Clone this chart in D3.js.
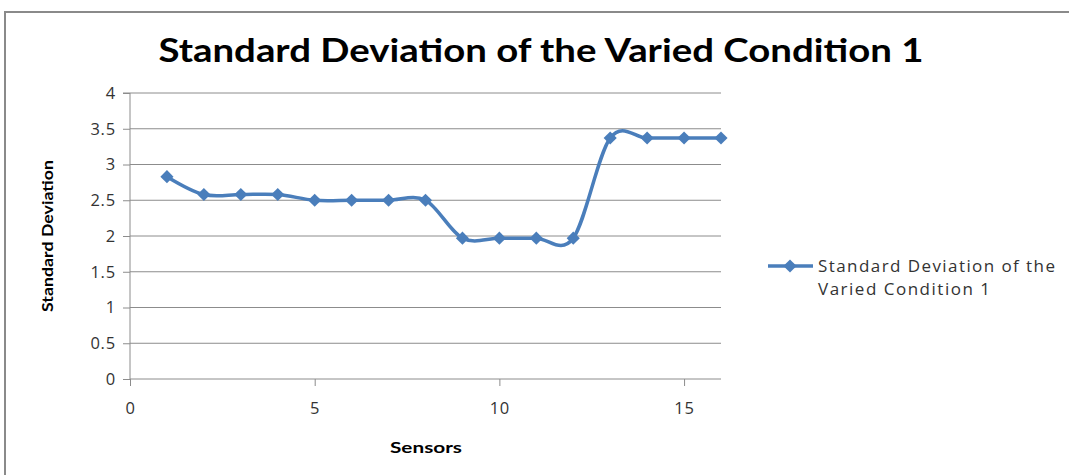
<!DOCTYPE html>
<html>
<head>
<meta charset="utf-8">
<script src="https://cdn.jsdelivr.net/npm/d3@7/dist/d3.min.js"></script>
<style>
  html, body { margin: 0; padding: 0; background: #fff; }
  svg { display: block; }
</style>
</head>
<body>
<svg id="chart" width="1069" height="475"></svg>
<script>
const sensors = [1, 2, 3, 4, 5, 6, 7, 8, 9, 10, 11, 12, 13, 14, 15, 16];
const stdValues = [2.83, 2.58, 2.58, 2.58, 2.5, 2.5, 2.5, 2.5, 1.97, 1.97, 1.97, 1.97, 3.37, 3.37, 3.37, 3.37];
const xTicks = [0, 5, 10, 15];
const yTicks = [0, 0.5, 1, 1.5, 2, 2.5, 3, 3.5, 4];
const chartTitle = "Standard Deviation of the Varied Condition 1";
const seriesName = ["Standard Deviation of the", "Varied Condition 1"];
const xTitle = "Sensors";
const yTitle = "Standard Deviation";

const svg = d3.select("#chart");
const color = "#4a7ebb";

// outer frame
svg.append("path")
  .attr("d", "M5,475 V12 H1069")
  .attr("fill", "none").attr("stroke", "#8a8a8a").attr("stroke-width", 2);

const x = d3.scaleLinear().domain([0, 16]).range([130, 721]);
const y = d3.scaleLinear().domain([0, 4]).range([379, 93]);

// gridlines
svg.append("g").selectAll("line").data(yTicks.filter(d => d > 0)).join("line")
  .attr("x1", x(0)).attr("x2", x(16))
  .attr("y1", d => y(d)).attr("y2", d => y(d))
  .attr("stroke", "#8c8c8c").attr("stroke-width", 1);

// y axis
const yAxis = d3.axisLeft(y).tickValues(yTicks).tickSize(7).tickPadding(10)
  .tickFormat(d => String(d));
const gy = svg.append("g").attr("transform", `translate(${x(0)},0)`).call(yAxis);
gy.select(".domain").attr("stroke", "#8c8c8c").attr("d", `M-7,${y(4)}H0V${y(0)}`);
gy.selectAll(".tick line").attr("stroke", "#8c8c8c");
gy.selectAll(".tick text").attr("font-family", "Open Sans").attr("font-size", 16.5)
  .attr("letter-spacing", 0.8)
  .attr("fill", "#333").attr("x", -14);

// x axis
const xAxis = d3.axisBottom(x).tickValues(xTicks).tickSize(7).tickPadding(16)
  .tickFormat(d => String(d));
const gx = svg.append("g").attr("transform", `translate(0,${y(0)})`).call(xAxis);
gx.select(".domain").attr("stroke", "#8c8c8c").attr("d", `M${x(0)},0H${x(16)}`);
gx.selectAll(".tick line").attr("stroke", "#8c8c8c");
gx.selectAll(".tick text").attr("font-family", "Open Sans").attr("font-size", 16.5)
  .attr("letter-spacing", 0.8)
  .attr("fill", "#333");

// line
const line = d3.line()
  .x((d, i) => x(sensors[i]))
  .y(d => y(d))
  .curve(d3.curveCatmullRom.alpha(0));
svg.append("path").datum(stdValues)
  .attr("d", line)
  .attr("fill", "none").attr("stroke", color).attr("stroke-width", 3.5)
  .attr("stroke-linejoin", "round");

const diamond = d3.symbol().type(d3.symbolDiamond2).size(110);
svg.append("g").selectAll("path").data(stdValues).join("path")
  .attr("transform", (d, i) => `translate(${x(sensors[i])},${y(d)})`)
  .attr("d", diamond)
  .attr("fill", color);

// title
svg.append("text")
  .attr("x", 541).attr("y", 62)
  .attr("text-anchor", "middle")
  .attr("font-family", "Lato").attr("font-weight", "bold").attr("font-size", 32)
  .attr("textLength", 765).attr("lengthAdjust", "spacingAndGlyphs")
  .attr("fill", "#000")
  .text(chartTitle);

// axis titles
svg.append("text")
  .attr("transform", "translate(53,236) rotate(-90)")
  .attr("text-anchor", "middle")
  .attr("font-family", "Lato").attr("font-weight", "bold").attr("font-size", 16)
  .attr("textLength", 152).attr("lengthAdjust", "spacingAndGlyphs")
  .attr("fill", "#000")
  .text(yTitle);

svg.append("text")
  .attr("x", 426).attr("y", 453)
  .attr("text-anchor", "middle")
  .attr("font-family", "Lato").attr("font-weight", "bold").attr("font-size", 16)
  .attr("textLength", 72).attr("lengthAdjust", "spacingAndGlyphs")
  .attr("fill", "#000")
  .text(xTitle);

// legend
const legendLens = [237, 172];
const lg = svg.append("g");
lg.append("line").attr("x1", 768).attr("x2", 813).attr("y1", 266).attr("y2", 266)
  .attr("stroke", color).attr("stroke-width", 3.5);
lg.append("path").attr("transform", "translate(790,266)").attr("d", diamond).attr("fill", color);
lg.selectAll("text").data(seriesName).join("text")
  .attr("x", 818).attr("y", (d, i) => 272 + i * 23)
  .attr("font-family", "Open Sans").attr("font-size", 17).attr("fill", "#333")
  .attr("textLength", (d, i) => legendLens[i]).attr("lengthAdjust", "spacing")
  .text(d => d);
</script>
</body>
</html>
